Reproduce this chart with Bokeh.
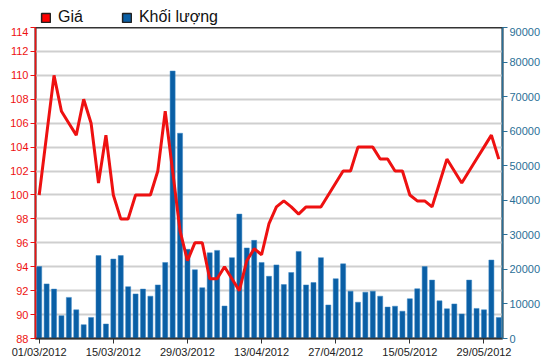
from bokeh.plotting import figure
from bokeh.layouts import column
from bokeh.models import Range1d, LinearAxis, FixedTicker, Legend, LegendItem, ColumnDataSource
from bokeh.embed import file_html
from bokeh.resources import INLINE

price = [100, 105, 110, 107, 106, 105, 108, 106, 101, 105,
         100, 98, 98, 100, 100, 100, 102, 107, 102, 97,
         94.5, 96, 96, 93, 93, 94, 93, 92, 94.5, 95.5,
         95, 97.6, 99, 99.5, 99, 98.4, 99, 99, 99, 100,
         101, 102, 102, 104, 104, 104, 103, 103, 102, 102,
         100, 99.5, 99.5, 99, 101, 103, 102, 101, 102, 103,
         104, 105, 103]
volume = [20800, 15800, 14300, 6600, 11900, 8300, 4000, 6100, 24000, 4200,
          23000, 24000, 15000, 12900, 14300, 12250, 15500, 22000, 77400, 59400,
          25800, 19900, 14700, 24800, 25500, 9400, 23400, 36000, 26200, 28400,
          22000, 18000, 21300, 15600, 19100, 25200, 15500, 16200, 23400, 9700,
          17300, 21600, 13700, 10500, 13400, 13700, 12250, 9100, 9350, 7900,
          11500, 14400, 20800, 16900, 10900, 8600, 10000, 7100, 16900, 8700,
          8300, 22700, 6100]
tick_idx = [0, 10, 20, 30, 40, 50, 60]
tick_labels = ["01/03/2012", "15/03/2012", "29/03/2012", "13/04/2012",
               "27/04/2012", "15/05/2012", "29/05/2012"]
price_ticks = list(range(88, 115, 2))
vol_ticks = list(range(0, 90001, 10000))
series_names = ["Giá", "Khối lượng"]

idx = list(range(len(price)))
src = ColumnDataSource(dict(x=idx, price=price, volume=volume))

RED = "#ee1111"
BLUE = "#0a5fa5"
AXBLUE = "#2a6f97"

# ---- legend strip above the chart ----
lf = figure(width=550, height=27, output_backend="svg", toolbar_location=None,
            x_range=Range1d(0, 1), y_range=Range1d(0, 1),
            min_border_left=0, min_border_right=0, min_border_top=0, min_border_bottom=0)
lf.axis.visible = False
lf.grid.visible = False
lf.outline_line_color = None
lg_price = lf.quad(left=[-10], right=[-9], bottom=[-10], top=[-9],
                   fill_color="#ff0000", line_color="#222222", line_width=1.5)
lg_vol = lf.quad(left=[-10], right=[-9], bottom=[-10], top=[-9],
                 fill_color=BLUE, line_color="#222222", line_width=1.5)
legend = Legend(items=[LegendItem(label=series_names[0], renderers=[lg_price]),
                       LegendItem(label=series_names[1], renderers=[lg_vol])],
                orientation="horizontal", location=(5, 1),
                label_text_font="Liberation Sans", label_text_font_size="16px",
                label_text_color="#111111", glyph_width=11, glyph_height=11,
                label_standoff=7, spacing=38, padding=0, margin=0,
                border_line_color=None, background_fill_alpha=0)
lf.add_layout(legend, "center")

# ---- main chart ----
p = figure(width=550, height=337, output_backend="svg", toolbar_location=None,
           x_range=Range1d(-0.5, len(price) - 0.5), y_range=Range1d(88, 114),
           min_border_left=35, min_border_right=48, min_border_top=0, min_border_bottom=26)
p.extra_y_ranges = {"vol": Range1d(0, 90000)}
p.outline_line_color = "#333333"
p.outline_line_width = 2
p.background_fill_color = "white"
p.border_fill_color = "white"

p.xgrid.visible = False
p.ygrid.grid_line_color = "#cfcfcf"
p.ygrid.grid_line_width = 2
p.ygrid.ticker = FixedTicker(ticks=price_ticks)

bars = p.vbar(x="x", top="volume", bottom=0, width=0.68, source=src, y_range_name="vol",
              fill_color=BLUE, line_color="#3b86c4", line_width=0.5)
line = p.line(x="x", y="price", source=src, line_color=RED, line_width=3)

xa = p.xaxis[0]
xa.ticker = FixedTicker(ticks=tick_idx)
xa.major_label_overrides = {i: l for i, l in zip(tick_idx, tick_labels)}
xa.axis_line_color = "#333333"
xa.axis_line_width = 1.5
xa.major_tick_line_color = "#333333"
xa.major_tick_out = 5
xa.major_tick_in = 0
xa.minor_tick_line_color = None
xa.major_label_text_font = "Liberation Sans"
xa.major_label_text_font_size = "11px"
xa.major_label_text_color = "#222222"
xa.major_label_standoff = 2

ya = p.yaxis[0]
ya.ticker = FixedTicker(ticks=price_ticks)
ya.axis_line_color = RED
ya.axis_line_width = 1.5
ya.major_tick_line_color = RED
ya.major_tick_out = 5
ya.major_tick_in = 0
ya.minor_tick_line_color = None
ya.major_label_text_color = RED
ya.major_label_text_font = "Liberation Sans"
ya.major_label_text_font_size = "11px"
ya.major_label_standoff = 2

ra = LinearAxis(y_range_name="vol", ticker=FixedTicker(ticks=vol_ticks))
ra.axis_line_color = AXBLUE
ra.axis_line_width = 1.5
ra.major_tick_line_color = AXBLUE
ra.major_tick_out = 5
ra.major_tick_in = 0
ra.minor_tick_line_color = None
ra.major_label_text_color = AXBLUE
ra.major_label_text_font = "Liberation Sans"
ra.major_label_text_font_size = "11px"
ra.major_label_standoff = 2
p.add_layout(ra, "right")

layout = column(lf, p, spacing=0)
open("out.html", "w").write(file_html(layout, INLINE))
